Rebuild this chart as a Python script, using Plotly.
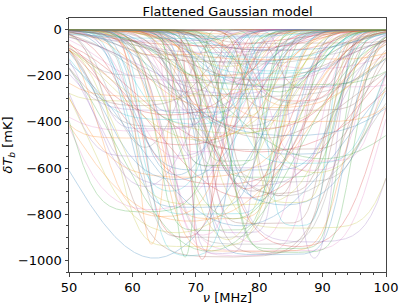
import numpy as np
import plotly.graph_objects as go

# Flattened Gaussian model parameters
# amplitude [mK], centre [MHz], width [MHz], flattening tau
amplitude = [990, 930, 985, 995, 990, 985, 960, 120, 450, 700, 250, 820, 60, 530, 880, 330, 610, 150, 940, 410,
             760, 290, 570, 90, 680, 350, 920, 200, 480, 850, 30, 640, 270, 730, 430, 970, 170, 590, 310, 800,
             460, 110, 560, 900, 380, 720, 220, 510, 860, 140, 650, 340, 950, 70, 600, 260, 780, 420, 910, 190,
             540, 830, 300, 670, 50, 470, 980, 230, 620, 390, 740, 130, 870, 500, 280, 710, 440, 930, 160, 580,
             360, 810, 240, 690, 100, 520, 890, 320, 760, 210, 630, 400, 960, 80, 550, 840, 270, 660, 450, 180,
             770, 20, 590, 940, 350, 700, 250, 490, 880, 120, 610, 330, 790, 430, 970, 60, 560, 290, 750, 410,
             850, 200, 640, 370, 920, 140, 530, 720, 260, 980, 90, 470, 820, 310, 680, 220, 570, 900, 380, 40,
             975, 960, 965]
centre = [63.5, 63.0, 68.3, 71.0, 88.7, 75.0, 82.0, 72, 78, 66, 85, 74, 69, 80, 77, 61, 88, 79, 70, 73,
          84, 65, 76, 82, 62, 87, 79, 67, 71, 86, 75, 69, 83, 78, 64, 81, 89, 73, 60, 72,
          85, 66, 90, 68, 77, 83, 74, 62, 87, 80, 67, 79, 84, 71, 76, 88, 63, 70, 75, 82,
          86, 69, 78, 74, 64, 81, 77, 72, 89, 66, 80, 85, 73, 68, 76, 83, 61, 79, 75, 87,
          70, 65, 84, 78, 73, 82, 71, 86, 74, 80, 67, 88, 72, 77, 63, 81, 69, 85, 76, 83,
          70, 78, 74, 86, 65, 79, 89, 72, 67, 81, 76, 84, 62, 80, 74, 87, 68, 79, 85, 70,
          77, 73, 82, 66, 88, 75, 71, 84, 78, 69, 83, 64, 76, 86, 73, 80, 90, 72, 77, 68,
          82, 79, 85]
width = [32, 5, 4, 4, 7, 36, 34, 25, 18, 14, 30, 20, 12, 40, 12, 22, 16, 35, 26, 9,
         28, 38, 11, 20, 17, 24, 15, 32, 29, 10, 18, 37, 13, 33, 19, 21, 27, 8, 30, 23,
         39, 16, 35, 13, 26, 9, 40, 12, 31, 14, 24, 36, 18, 30, 22, 11, 27, 34, 16, 25,
         14, 38, 10, 29, 21, 33, 24, 15, 20, 28, 12, 37, 19, 25, 32, 17, 35, 28, 13, 23,
         18, 21, 39, 15, 27, 30, 10, 20, 35, 22, 13, 33, 30, 24, 26, 19, 11, 26, 38, 17,
         22, 30, 14, 25, 31, 18, 36, 12, 29, 23, 33, 14, 24, 27, 11, 32, 17, 40, 13, 20,
         36, 16, 21, 25, 28, 34, 9, 30, 19, 14, 26, 37, 20, 15, 39, 28, 18, 23, 12, 35,
         24, 30, 20]
tau = [0.5, 1.0, 2.0, 3.0, 1.5, 6.0, 8.0, 2.5, 1.5, 3, 5, 7, 1, 2, 9, 3.5, 5.5, 0.5, 8, 0.8,
       2.5, 6.5, 9.5, 4, 1.5, 7, 3.5, 8.5, 1.2, 6, 3, 4.5, 2, 0.6, 8, 5, 1.8, 3.5, 5.5, 9.5,
       3, 6.5, 1, 4, 7.5, 2.2, 9, 0.8, 7, 4.5, 2.5, 5, 8.5, 1.5, 6, 3.5, 3, 10, 1, 5.5,
       8, 2, 6.5, 4, 7.5, 0.5, 6, 9.5, 2.5, 4.5, 1.5, 7, 9, 3, 1, 5, 3.5, 7.5, 2, 5.5,
       8.5, 4, 6, 0.9, 3, 9.5, 4.5, 1.5, 6.5, 8, 2.5, 5, 1.2, 3.5, 7, 10, 3, 6, 2, 4.5,
       7.5, 1, 9, 3.5, 5.5, 0.5, 8, 4, 2.5, 6.5, 9.5, 1.5, 5, 3, 7, 8.5, 2, 4.5, 6, 3.5,
       1, 7.5, 10, 2.5, 5.5, 4, 8, 1.5, 6.5, 5, 3, 9, 2, 4.5, 7, 0.8, 6, 9.5, 3.5, 2.5,
       9, 10, 8]

x_range = [50, 100]
y_range = [-1050, 50]
x_ticks = [50, 60, 70, 80, 90, 100]
y_ticks = [0, -200, -400, -600, -800, -1000]

colors = ["#1f77b4", "#ff7f0e", "#2ca02c", "#d62728", "#9467bd",
          "#8c564b", "#e377c2", "#7f7f7f", "#bcbd22", "#17becf"]


def flattened_gaussian(nu, a, nu0, w, t):
    b = 4.0 * (nu - nu0) ** 2 / w ** 2 * np.log(-1.0 / t * np.log((1.0 + np.exp(-t)) / 2.0))
    return -a * (1.0 - np.exp(-t * np.exp(b))) / (1.0 - np.exp(-t))


nu = np.linspace(50, 100, 600)

fig = go.Figure()
for i, (a, c, w, t) in enumerate(zip(amplitude, centre, width, tau)):
    fig.add_trace(go.Scatter(
        x=nu, y=flattened_gaussian(nu, a, c, w, t), mode="lines",
        line=dict(color=colors[i % 10], width=0.9), opacity=0.3,
        showlegend=False, hoverinfo="skip"))

font = "DejaVu Sans"
axis_common = dict(
    showgrid=False, zeroline=False, showline=True, linecolor="#444", linewidth=1,
    mirror=True, ticks="outside", ticklen=3.5, tickcolor="#444", tickwidth=1,
    tickfont=dict(family=font, size=13, color="black"), automargin=False,
)
fig.update_xaxes(range=x_range, tickvals=x_ticks,
                 title=dict(text="<i>ν</i> [MHz]", font=dict(family=font, size=13, color="black"), standoff=0),
                 minor=dict(dtick=2, ticks="outside", ticklen=2, tickcolor="#444"),
                 **axis_common)
fig.update_yaxes(range=y_range, tickvals=y_ticks,
                 title=dict(text="<i>δT</i><sub><i>b</i></sub> [mK]", font=dict(family=font, size=13, color="black"), standoff=2),
                 minor=dict(dtick=50, ticks="outside", ticklen=2, tickcolor="#444"),
                 **axis_common)
fig.update_layout(
    width=407, height=305,
    margin=dict(l=69, r=21, t=18, b=33),
    paper_bgcolor="white", plot_bgcolor="white",
    title=dict(text="Flattened Gaussian model", x=0.5, xanchor="center", xref="paper",
               y=0.963, yanchor="middle", font=dict(family=font, size=13, color="black")),
)
fig.write_html("out.html", config={"displayModeBar": False},
               post_script="document.body.style.margin='0px';")
